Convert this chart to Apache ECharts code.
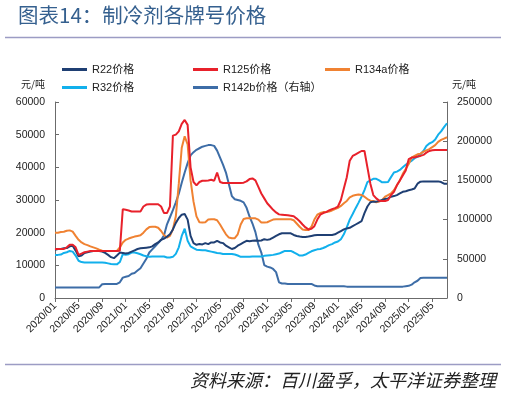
<!DOCTYPE html>
<html>
<head>
<meta charset="utf-8">
<script src="https://cdn.jsdelivr.net/npm/echarts@6/dist/echarts.min.js"></script>
<style>
html,body{margin:0;padding:0;background:#fff;}
#c{width:507px;height:396px;}
</style>
</head>
<body>
<div id="c"></div>
<script>
// Half-monthly observations, 2020/01 (first half) .. 2025/07 (second half)
const years = [2020, 2021, 2022, 2023, 2024, 2025];
const seriesNames = ['R22价格', 'R125价格', 'R134a价格', 'R32价格', 'R142b价格（右轴）'];
const leftTicks = [0, 10000, 20000, 30000, 40000, 50000, 60000];
const rightTicks = [0, 50000, 100000, 150000, 200000, 250000];

const r22 = [
  14800,15000,15000,15200,15300,15800,16000,14500,
  12800,13000,13800,14000,14200,14400,14400,14400,
  14200,13800,13200,12500,12200,13000,13900,13800,
  13600,13800,14200,14600,15000,15200,15300,15400,
  15500,15800,16500,17000,17800,18200,18800,19500,
  21000,23000,24500,25500,25700,24000,19000,16800,
  16300,16500,16400,16800,16500,17000,17000,17500,
  17000,16800,16000,15500,15000,15300,16000,16500,
  17000,17500,17400,17500,17600,17500,17600,18000,
  17800,18000,18500,19000,19500,19800,19800,19800,
  19800,19300,19000,18800,18700,18700,18800,19000,
  19200,19300,19300,19300,19300,19300,19300,19500,
  20000,20500,21000,21300,21500,22000,22500,23000,
  23500,26000,28000,29300,29500,29500,29700,30000,
  30300,30500,31000,31200,31500,32000,32500,32700,
  33000,33200,33500,35000,35600,35700,35700,35700,
  35700,35700,35700,35500,35000,35000
];
const r125 = [
  15000,15000,15000,15000,15500,16300,16300,15500,
  13200,13600,14000,14200,14400,14400,14400,14400,
  14400,14400,14400,14400,14400,14400,14500,27200,
  27000,26800,26500,26500,26500,26500,28000,28600,
  28700,28700,28700,28700,28000,26000,26000,28000,
  49700,50000,51000,53300,54500,53000,40000,35500,
  34500,35500,35900,35900,36000,36200,35900,38400,
  35500,35200,35200,35200,35200,35200,35200,35200,
  35300,35700,36400,36600,36000,34000,32000,30500,
  29000,28000,27000,26200,25600,25500,25400,25300,
  25200,25000,24300,23500,22500,21600,21000,21200,
  22000,24000,25500,26000,26300,26800,27200,27500,
  28000,30000,33500,37000,42000,43500,44000,44500,
  45000,45000,40000,35000,31500,30500,29800,29700,
  29700,30000,31500,32500,34500,36000,37500,39000,
  42500,43000,43000,43300,43500,43800,44500,45000,
  45200,45300,45300,45300,45300,45300
];
const r134a = [
  20000,20000,20200,20300,20600,20700,20300,19000,
  17800,17000,16500,16200,15800,15500,15200,14800,
  14500,14400,14400,14400,14400,14400,15500,17000,
  17800,18200,18500,18800,19000,19200,20000,21000,
  21700,21800,21800,21500,20500,19200,18500,19000,
  21000,25000,35000,46000,49500,47000,36000,29500,
  25000,23200,23100,23200,24000,24100,24100,23800,
  22500,21000,19500,18500,18300,18300,19500,22500,
  24200,24400,24400,24400,24400,24000,23100,23100,
  23200,23600,24000,24100,24100,24100,24100,24100,
  24100,23800,22800,21800,21000,20800,20800,21800,
  24000,25500,26000,26300,26300,26500,26800,27200,
  27600,28200,29000,29700,30800,31300,31500,31700,
  31500,31000,30300,29800,29700,29300,29500,30000,
  31000,31500,32000,33000,34500,36000,38000,39500,
  41000,43000,43500,44000,44200,44800,45200,45600,
  46200,46800,47800,48400,48800,49200
];
const r32 = [
  13200,13200,13300,13800,14000,14400,14200,13000,
  11400,11000,10900,10900,10900,10900,10900,10900,
  10900,10800,10600,10400,10300,10300,11000,13400,
  13200,13400,13900,13900,13700,13400,13000,12800,
  12600,12700,12700,12700,12700,12700,12400,12400,
  12600,13500,15500,19000,21200,17500,15800,15300,
  14800,14700,14600,14600,14400,14200,14000,13800,
  13700,13500,13500,13500,13500,13300,13000,12600,
  12600,12600,12600,12700,12700,12700,12700,12900,
  13000,13100,13200,13400,13600,14000,14400,14400,
  14400,14000,13500,13000,13000,13300,13800,14300,
  14600,14900,15000,15300,15700,16200,16500,17000,
  17300,18000,19500,21600,24000,25700,27500,29200,
  31000,33000,35500,36000,36500,36500,36000,35400,
  35400,35500,37000,38400,38700,39200,40000,40800,
  41500,42000,42800,43200,44000,45000,46500,47300,
  47700,48500,50000,51000,52300,53500
];
const r142b = [
  13500,13500,13500,13500,13500,13500,13500,13500,
  13500,13500,13500,13500,13500,13500,13500,13500,
  17500,18000,18000,18000,18000,18000,20000,26000,
  27000,28000,31000,32000,35000,38000,44000,50000,
  58000,62000,66000,70000,74000,80000,94000,103000,
  112000,122000,133000,147000,160000,172000,182000,186000,
  189000,191000,193000,194000,195000,195000,194000,188000,
  179000,170000,160000,145000,130000,126000,125000,124000,
  122000,115000,104000,95000,84000,68000,58000,42000,
  40000,39000,37000,33000,20000,18500,18500,18000,
  18000,18000,18000,18000,18000,18000,18000,18000,
  16000,15000,15000,15000,15000,15000,15000,15000,
  15000,15000,15000,14500,14500,14500,14500,14500,
  14500,14500,14500,14500,14500,14500,14500,14500,
  14500,14500,14500,14500,14500,14500,14500,15000,
  15500,17000,20000,22000,25500,25800,25800,25800,
  25800,25800,25800,25800,25800,25800
];

// category labels (two observations per month)
const categories = [];
for (const y of years) {
  for (let m = 1; m <= 12; m++) {
    const mm = (m < 10 ? '0' : '') + m;
    categories.push(y + '/' + mm + '/01');
    categories.push(y + '/' + mm + '/16');
  }
}
categories.length = r22.length;

const colors = ['#1F3F73', '#E8212B', '#F08232', '#12B0EC', '#3D6DA7'];
const numFont = 'Liberation Sans, Arial, sans-serif';
const cjkFont = 'Liberation Sans, Noto Sans CJK SC, sans-serif';

const chart = echarts.init(document.getElementById('c'), null, {renderer: 'canvas'});

function legendAt(name, left, top) {
  return {
    data: [name], left: left, top: top, padding: 0, itemGap: 0,
    icon: 'rect', itemWidth: 25, itemHeight: 3,
    textStyle: {fontFamily: cjkFont, fontSize: 11, color: '#222'}
  };
}

function mkSeries(name, data, color, yIdx) {
  return {
    name: name, type: 'line', data: data, yAxisIndex: yIdx,
    symbol: 'none', smooth: false, animation: false,
    lineStyle: {color: color, width: 2},
    itemStyle: {color: color}
  };
}

const plain = function (v) { return String(v); };

chart.setOption({
  animation: false,
  backgroundColor: '#fff',
  grid: {left: 55, right: 60, top: 102, bottom: 98, containLabel: false},
  legend: [
    legendAt(seriesNames[0], 62, 64),
    legendAt(seriesNames[1], 193, 64),
    legendAt(seriesNames[2], 325, 64),
    legendAt(seriesNames[3], 62, 82),
    legendAt(seriesNames[4], 193, 82)
  ],
  graphic: [
    {type: 'text', left: 18, top: 5, style: {text: '图表14：制冷剂各牌号价格', fontFamily: 'Noto Sans CJK SC', fontSize: 20.5, fill: '#35608F'}},
    {type: 'line', shape: {x1: 5, y1: 37.5, x2: 501, y2: 37.5}, style: {stroke: '#9C9CC4', lineWidth: 1.5}},
    {type: 'text', left: 21, top: 79, style: {text: '元/吨', fontFamily: 'Noto Sans CJK SC', fontSize: 10, fill: '#222'}},
    {type: 'text', left: 452, top: 79, style: {text: '元/吨', fontFamily: 'Noto Sans CJK SC', fontSize: 10, fill: '#222'}},
    {type: 'line', shape: {x1: 5, y1: 364.5, x2: 501, y2: 364.5}, style: {stroke: '#9C9CC4', lineWidth: 1.5}},
    {type: 'text', right: 11, top: 371, style: {text: '资料来源：百川盈孚，太平洋证券整理', fontFamily: 'Noto Sans CJK SC', fontSize: 18, fontStyle: 'italic', fill: '#222', align: 'right'}}
  ],
  xAxis: {
    type: 'category', data: categories, boundaryGap: false,
    axisLine: {show: true, lineStyle: {color: '#6B6B6B', width: 1}},
    axisTick: {show: true, interval: 7, length: 4, inside: false, lineStyle: {color: '#6B6B6B'}},
    axisLabel: {
      interval: 7, rotate: 45, margin: 6, fontFamily: numFont, fontSize: 10.5, color: '#222',
      formatter: function (v) { return v.slice(0, 7); }
    },
    splitLine: {show: false}
  },
  yAxis: [
    {
      type: 'value', min: leftTicks[0], max: leftTicks[leftTicks.length - 1], interval: 10000, position: 'left',
      axisLine: {show: true, lineStyle: {color: '#6B6B6B', width: 1}},
      axisTick: {show: true, inside: true, length: 4, lineStyle: {color: '#6B6B6B'}},
      axisLabel: {margin: 10, fontFamily: numFont, fontSize: 10.5, color: '#222', formatter: plain},
      splitLine: {show: false}
    },
    {
      type: 'value', min: rightTicks[0], max: rightTicks[rightTicks.length - 1], interval: 50000, position: 'right',
      axisLine: {show: true, lineStyle: {color: '#6B6B6B', width: 1}},
      axisTick: {show: true, inside: true, length: 4, lineStyle: {color: '#6B6B6B'}},
      axisLabel: {margin: 10, fontFamily: numFont, fontSize: 10.5, color: '#222', formatter: plain},
      splitLine: {show: false}
    }
  ],
  series: [
    mkSeries(seriesNames[4], r142b, colors[4], 1),
    mkSeries(seriesNames[3], r32, colors[3], 0),
    mkSeries(seriesNames[2], r134a, colors[2], 0),
    mkSeries(seriesNames[0], r22, colors[0], 0),
    mkSeries(seriesNames[1], r125, colors[1], 0)
  ]
});
</script>
</body>
</html>
